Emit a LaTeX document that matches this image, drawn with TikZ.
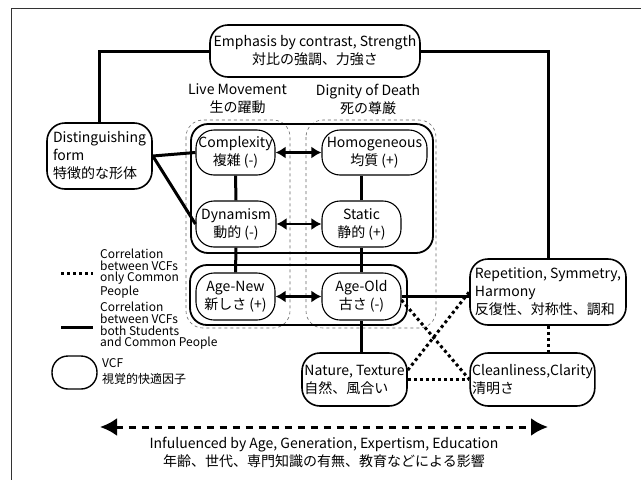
\documentclass[tikz,border=0pt]{standalone}
\usepackage{fontspec}
\setmainfont{Noto Sans CJK JP}
\usetikzlibrary{arrows.meta,positioning,calc}

\begin{document}
\begin{tikzpicture}[x=1pt,y=-1pt,
  font=\fontsize{14}{18}\selectfont,
  vcf/.style={draw,line width=1.6pt,rounded corners=18pt,fill=white,align=center,inner sep=2pt},
  vcfin/.style={vcf,line width=1.1pt},
  link/.style={line width=3pt},
  weak/.style={line width=3pt,dash pattern=on 3pt off 3pt},
  pair/.style={line width=2.6pt,{Latex[length=10pt,width=12pt]}-{Latex[length=10pt,width=12pt]}},
  grp/.style={draw,line width=1.8pt,rounded corners=17pt},
  col/.style={draw,black!60,line width=0.6pt,dashed,rounded corners=17pt},
  legtxt/.style={anchor=west,align=left,inner sep=0pt,font=\fontsize{12}{11.7}\selectfont}
]
\useasboundingbox (0,0) rectangle (641,480);
\draw[line width=1pt,black!80] (11,484) -- (11,8) -- (645,8);

% groups behind the factors
\draw[col] (186,120) rectangle (290,328);
\draw[col] (306,120) rectangle (436,328);
\draw[grp] (191,124) rectangle (433,253);
\draw[grp] (190,265) rectangle (407,325);

\node at (237.5,99) [align=center] {Live Movement\\生の躍動};
\node at (368,99) [align=center] {Dignity of Death\\死の尊厳};

% factors
\node[vcf,minimum width=210pt,minimum height=52pt] (emph) at (315,51) {Emphasis by contrast, Strength\\対比の強調、力強さ};
\node[vcf,align=left,minimum width=105pt,minimum height=66pt] (dist) at (99.5,156) {Distinguishing\\form\\特徴的な形体};
\node[vcfin,minimum width=79pt,minimum height=45pt] (cplx) at (235.5,152.5) {Complexity\\複雑 (-)};
\node[vcfin,minimum width=105pt,minimum height=45pt] (homo) at (374.5,152.5) {Homogeneous\\均質 (+)};
\node[vcfin,minimum width=80pt,minimum height=46pt] (dyna) at (236,224) {Dynamism\\動的 (-)};
\node[vcfin,minimum width=79pt,minimum height=46pt] (stat) at (361.5,224) {Static\\静的 (+)};
\node[vcfin,minimum width=79pt,minimum height=47pt] (agen) at (235.5,296.5) {Age-New\\新しさ (+)};
\node[vcfin,minimum width=79pt,minimum height=47pt] (ageo) at (361.5,296.5) {Age-Old\\古さ (-)};
\node[vcf,align=left,minimum width=156pt,minimum height=66pt] (rep) at (548,292) {Repetition, Symmetry,\\Harmony\\反復性、対称性、調和};
\node[vcf,align=left,minimum width=105pt,minimum height=53pt] (nat) at (354.5,379.5) {Nature, Texture\\自然、風合い};
\node[vcf,align=left,minimum width=121pt,minimum height=53pt] (clean) at (532.5,379.5) {Cleanliness,Clarity\\清明さ};

% correlations
\draw[link] (emph.west) -| (dist.north);
\draw[link] (emph.east) -| (rep.north);
\draw[link] (dist.east) -- (cplx.west);
\draw[link] (dist.east) -- (dyna.west);
\draw[link] (cplx.south) -- (dyna.north);
\draw[link] (dyna.south) -- (agen.north);
\draw[link] (stat.north) -- (stat.north |- homo.south);
\draw[link] (stat.south) -- (ageo.north);
\draw[link] (ageo.south) -- (ageo.south |- nat.north);
\draw[link] (ageo.east) -- (ageo.east -| rep.west);
\draw[pair] (cplx.east) -- (homo.west);
\draw[pair] (dyna.east) -- (stat.west);
\draw[pair] (agen.east) -- (ageo.west);
\draw[weak] (ageo.-5) -- (clean.west);
\draw[weak] (nat.10) -- (rep.west);
\draw[weak] (nat.east) -- (clean.west);
\draw[weak] (rep.south) -- (rep.south |- clean.north);

% legend
\coordinate (dotl) at (61,273);
\coordinate (dotr) at (93,273);
\draw[weak] (dotl) -- (dotr);
\node[legtxt] (dottxt) at (100,273.5) {Correlation\\between VCFs\\only Common\\People};
\coordinate (linl) at (61,327);
\coordinate (linr) at (93,327);
\draw[link] (linl) -- (linr);
\node[legtxt] (lintxt) at (100,326) {Correlation\\between VCFs\\both Students\\and Common People};
\node[draw,line width=1.4pt,rounded corners=16pt,minimum width=45pt,minimum height=33pt] (vcfkey) at (74.5,372.5) {};
\node[legtxt,font=\fontsize{12}{16}\selectfont] (vcftxt) at (102,372) {VCF\\視覚的快適因子};

% influence arrow
\coordinate (infl) at (100,427);
\coordinate (infr) at (548,427);
\draw[line width=3pt,dash pattern=on 7.5pt off 5.5pt,{Latex[length=17pt,width=18pt]}-{Latex[length=17pt,width=18pt]}] (infl) -- (infr);
\node[align=center] (infltxt) at (324,452.5) {Infuluenced by Age, Generation, Expertism, Education\\年齢、世代、専門知識の有無、教育などによる影響};
\end{tikzpicture}
\end{document}
